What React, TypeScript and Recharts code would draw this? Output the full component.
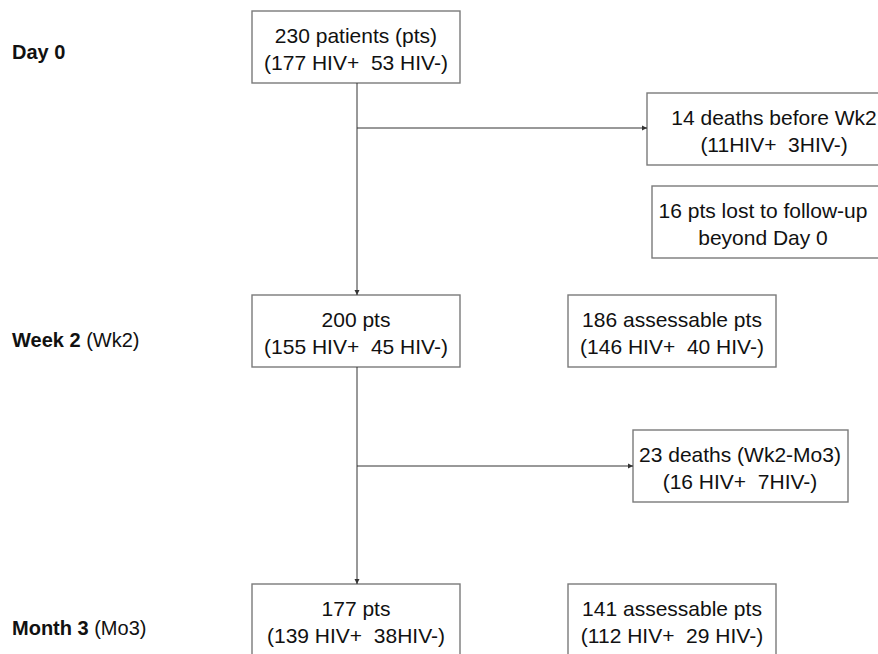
import React from "react";
import {
  ReferenceArea,
  ReferenceDot,
  ReferenceLine,
  Scatter,
  ScatterChart,
  XAxis,
  YAxis,
} from "recharts";

const WIDTH = 878;
const HEIGHT = 654;
const FONT = "'Liberation Sans', Arial, sans-serif";

// timepoints down the left side
const STAGE_NAMES = ["Day 0", "Week 2", "Month 3"];
const STAGE_ABBRS = ["", "(Wk2)", "(Mo3)"];

// main cohort at each timepoint
const COHORT_PTS = [230, 200, 177];
const COHORT_HIV_POS = [177, 155, 139];
const COHORT_HIV_NEG = [53, 45, 38];

// assessable patients (Wk2, Mo3)
const ASSESSABLE_PTS = [186, 141];
const ASSESSABLE_HIV_POS = [146, 112];
const ASSESSABLE_HIV_NEG = [40, 29];

// deaths (before Wk2, Wk2-Mo3)
const DEATH_PTS = [14, 23];
const DEATH_HIV_POS = [11, 16];
const DEATH_HIV_NEG = [3, 7];
const DEATH_PERIODS = ["before Wk2", "(Wk2-Mo3)"];

const LOST_PTS = 16;

const hivLine = (pos: number, neg: number, posSep = " ", negSep = " ") =>
  `(${pos}${posSep}HIV+  ${neg}${negSep}HIV-)`;

type Box = { x1: number; x2: number; y1: number; y2: number; cx: number; lines: string[] };

const mainX = [252, 460];
const mainTops = [11, 295, 584];
const sideX = [568, 776];

const boxes: Box[] = [
  ...COHORT_PTS.map((n, i) => ({
    x1: mainX[0],
    x2: mainX[1],
    y1: mainTops[i],
    y2: mainTops[i] + 72,
    cx: 356,
    lines: [
      i === 0 ? `${n} patients (pts)` : `${n} pts`,
      hivLine(COHORT_HIV_POS[i], COHORT_HIV_NEG[i], " ", i === 2 ? "" : " "),
    ],
  })),
  ...ASSESSABLE_PTS.map((n, i) => ({
    x1: sideX[0],
    x2: sideX[1],
    y1: mainTops[i + 1],
    y2: mainTops[i + 1] + 72,
    cx: 672,
    lines: [`${n} assessable pts`, hivLine(ASSESSABLE_HIV_POS[i], ASSESSABLE_HIV_NEG[i])],
  })),
  {
    x1: 647,
    x2: 910,
    y1: 93,
    y2: 165,
    cx: 774,
    lines: [
      `${DEATH_PTS[0]} deaths ${DEATH_PERIODS[0]}`,
      hivLine(DEATH_HIV_POS[0], DEATH_HIV_NEG[0], "", ""),
    ],
  },
  {
    x1: 652,
    x2: 910,
    y1: 186,
    y2: 258,
    cx: 763,
    lines: [`${LOST_PTS} pts lost to follow-up`, "beyond Day 0"],
  },
  {
    x1: 633,
    x2: 848,
    y1: 430,
    y2: 502,
    cx: 740,
    lines: [
      `${DEATH_PTS[1]} deaths ${DEATH_PERIODS[1]}`,
      hivLine(DEATH_HIV_POS[1], DEATH_HIV_NEG[1], " ", ""),
    ],
  },
];

const connectors = [
  [{ x: 357, y: 83 }, { x: 357, y: 295 }],
  [{ x: 357, y: 128 }, { x: 647, y: 128 }],
  [{ x: 357, y: 367 }, { x: 357, y: 584 }],
  [{ x: 357, y: 466 }, { x: 633, y: 466 }],
];

const arrowTips = [
  { x: 357, y: 295, dir: "down" },
  { x: 647, y: 128, dir: "right" },
  { x: 357, y: 584, dir: "down" },
  { x: 633, y: 466, dir: "right" },
];

const stageLabels = STAGE_NAMES.map((name, i) => ({
  x: 12,
  y: [59, 347, 635][i],
  name,
  abbr: STAGE_ABBRS[i],
}));

function BoxShape(box: Box) {
  return (props: any) => {
    const { x, y, width, height } = props;
    const cx = x + (box.cx - box.x1);
    return (
      <g>
        <rect x={x} y={y} width={width} height={height} fill="#fff" stroke="#7a7a7a" strokeWidth={1.4} />
        {box.lines.map((line, i) => (
          <text
            key={i}
            x={cx}
            y={y + 32 + i * 27}
            textAnchor="middle"
            fontFamily={FONT}
            fontSize={21}
            fill="#111"
            style={{ whiteSpace: "pre" }}
          >
            {line}
          </text>
        ))}
      </g>
    );
  };
}

function ArrowHead(dir: string) {
  return (props: any) => {
    const { cx, cy } = props;
    const pts =
      dir === "down"
        ? `${cx - 2.5},${cy - 5} ${cx + 2.5},${cy - 5} ${cx},${cy}`
        : `${cx - 5},${cy - 2.5} ${cx - 5},${cy + 2.5} ${cx},${cy}`;
    return <polygon points={pts} fill="#333" />;
  };
}

function StageLabel(props: any) {
  const { cx, cy, payload } = props;
  return (
    <text x={cx} y={cy} fontFamily={FONT} fontSize={20} fill="#111" style={{ whiteSpace: "pre" }}>
      <tspan fontWeight="bold">{payload.name}</tspan>
      {payload.abbr ? <tspan>{" " + payload.abbr}</tspan> : null}
    </text>
  );
}

export default function App() {
  return (
    <div
      style={{
        position: "absolute",
        left: 0,
        top: 0,
        width: WIDTH,
        height: HEIGHT,
        overflow: "hidden",
        background: "#fff",
      }}
    >
      <ScatterChart width={WIDTH} height={HEIGHT} margin={{ top: 0, right: 0, bottom: 0, left: 0 }}>
        <XAxis type="number" dataKey="x" domain={[0, WIDTH]} allowDataOverflow hide />
        <YAxis type="number" dataKey="y" domain={[0, HEIGHT]} allowDataOverflow reversed hide />
        {connectors.map((seg, i) => (
          <ReferenceLine key={`c${i}`} segment={seg} stroke="#333" strokeWidth={1} ifOverflow="visible" />
        ))}
        {arrowTips.map((a, i) => (
          <ReferenceDot key={`a${i}`} x={a.x} y={a.y} ifOverflow="visible" shape={ArrowHead(a.dir)} />
        ))}
        {boxes.map((b, i) => (
          <ReferenceArea
            key={`b${i}`}
            x1={b.x1}
            x2={b.x2}
            y1={b.y1}
            y2={b.y2}
            ifOverflow="visible"
            shape={BoxShape(b)}
          />
        ))}
        <Scatter data={stageLabels} shape={StageLabel} isAnimationActive={false} />
      </ScatterChart>
    </div>
  );
}
